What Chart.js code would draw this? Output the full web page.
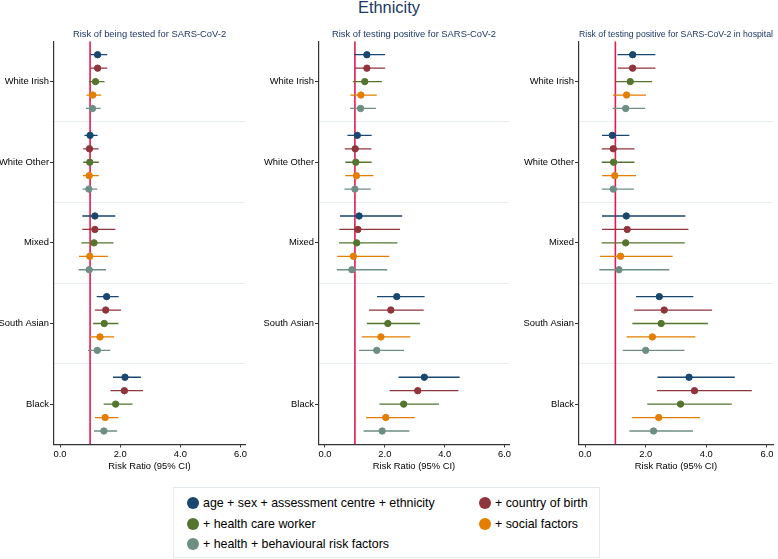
<!DOCTYPE html>
<html>
<head>
<meta charset="utf-8">
<script src="https://cdn.jsdelivr.net/npm/chart.js@4/dist/chart.umd.min.js"></script>
<style>
  body { margin: 0; width: 778px; height: 559px; background: #fff; position: relative; overflow: hidden;
         font-family: "Liberation Sans", Arial, sans-serif; }
  #title { position: absolute; top: -2px; left: 0; width: 778px; text-align: center; font-size: 16.4px; color: #1c3766; }
  canvas { position: absolute; top: 22px; }
  #legend { position: absolute; left: 173px; top: 487px; width: 427px; height: 71px; box-sizing: border-box;
            border: 1px solid #e3ebef; font-size: 12.4px; color: #000; }
  .item { position: absolute; white-space: nowrap; line-height: 14px; }
  .dot { position: absolute; width: 12px; height: 12px; border-radius: 50%; left: -16px; top: 1px; }
</style>
</head>
<body>
<div id="title">Ethnicity</div>
<canvas id="tested" width="258" height="450" style="left:0px"></canvas>
<canvas id="positive" width="260" height="450" style="left:262px"></canvas>
<canvas id="hospital" width="256" height="450" style="left:522px"></canvas>
<div id="legend"></div>

<script>
// categories and models
const categories = ['White Irish', 'White Other', 'Mixed', 'South Asian', 'Black'];
const models = ['age + sex + assessment centre + ethnicity', '+ country of birth', '+ health care worker',
                '+ social factors', '+ health + behavioural risk factors'];

// risk ratios, one row per category, one value per model
const testedRR   = [[1.25, 1.25, 1.18, 1.09, 1.08], [1.00, 0.98, 0.99, 0.97, 0.96], [1.16, 1.16, 1.13, 0.99, 0.97],
                    [1.55, 1.52, 1.47, 1.33, 1.24], [2.16, 2.14, 1.85, 1.50, 1.46]];
const testedLow  = [[1.02, 1.01, 0.96, 0.88, 0.86], [0.81, 0.77, 0.77, 0.76, 0.75], [0.74, 0.74, 0.71, 0.63, 0.62],
                    [1.22, 1.16, 1.10, 0.99, 0.93], [1.76, 1.68, 1.45, 1.16, 1.13]];
const testedHigh = [[1.57, 1.57, 1.48, 1.37, 1.35], [1.25, 1.28, 1.29, 1.29, 1.24], [1.84, 1.84, 1.78, 1.59, 1.53],
                    [1.95, 2.03, 1.94, 1.80, 1.67], [2.69, 2.76, 2.41, 1.94, 1.90]];

const positiveRR   = [[1.40, 1.40, 1.33, 1.20, 1.19], [1.08, 1.01, 1.03, 1.05, 1.00], [1.14, 1.10, 1.06, 0.95, 0.90],
                      [2.40, 2.20, 2.10, 1.87, 1.73], [3.32, 3.10, 2.63, 2.03, 1.91]];
const positiveLow  = [[0.98, 0.99, 0.93, 0.85, 0.84], [0.75, 0.66, 0.68, 0.68, 0.65], [0.50, 0.48, 0.47, 0.41, 0.40],
                      [1.74, 1.47, 1.40, 1.23, 1.14], [2.46, 2.16, 1.82, 1.37, 1.29]];
const positiveHigh = [[2.01, 2.01, 1.90, 1.73, 1.70], [1.56, 1.55, 1.56, 1.62, 1.53], [2.58, 2.51, 2.42, 2.15, 2.08],
                      [3.33, 3.30, 3.17, 2.85, 2.64], [4.50, 4.46, 3.81, 3.00, 2.82]];

const hospitalRR   = [[1.57, 1.57, 1.49, 1.37, 1.34], [0.90, 0.93, 0.94, 0.98, 0.93], [1.36, 1.39, 1.34, 1.17, 1.12],
                      [2.45, 2.61, 2.51, 2.22, 2.00], [3.43, 3.61, 3.15, 2.43, 2.26]];
const hospitalLow  = [[1.07, 1.08, 1.02, 0.92, 0.91], [0.56, 0.55, 0.55, 0.56, 0.55], [0.56, 0.56, 0.55, 0.49, 0.47],
                      [1.68, 1.62, 1.56, 1.37, 1.24], [2.39, 2.37, 2.05, 1.55, 1.46]];
const hospitalHigh = [[2.32, 2.32, 2.21, 2.01, 1.98], [1.46, 1.63, 1.63, 1.68, 1.61], [3.31, 3.41, 3.29, 2.89, 2.78],
                      [3.57, 4.19, 4.05, 3.64, 3.28], [4.94, 5.50, 4.84, 3.80, 3.56]];

const xTicks = [0, 2, 4, 6];
const refValue = 1;

const colors = ['#1a476f', '#90353b', '#55752f', '#e37e00', '#6e8e84'];
const fontFamily = '"Liberation Sans", Arial, sans-serif';

// row position: each category takes 6 units, models sit at 1..5 inside it
function rowY(c, m) { return c * 6 + 1 + m; }

function makePanel(id, title, rr, low, high, yWidth, padRight, xMax) {
  const datasets = [];
  models.forEach((name, m) => {
    const seg = [];
    categories.forEach((cat, c) => {
      seg.push({ x: low[c][m], y: rowY(c, m) });
      seg.push({ x: high[c][m], y: rowY(c, m) });
      seg.push({ x: high[c][m], y: null });
    });
    datasets.push({
      type: 'line', label: name + ' CI', data: seg, borderColor: colors[m], borderWidth: 1.3,
      pointRadius: 0, spanGaps: false, order: 2
    });
    datasets.push({
      type: 'scatter', label: name, data: categories.map((cat, c) => ({ x: rr[c][m], y: rowY(c, m) })),
      backgroundColor: colors[m], borderColor: colors[m], pointRadius: 3.2, order: 1
    });
  });
  datasets.push({
    type: 'line', label: 'ref', data: [{ x: refValue, y: 0 }, { x: refValue, y: 30 }],
    borderColor: '#e5194f', borderWidth: 1.6, pointRadius: 0, order: 5
  });

  new Chart(document.getElementById(id), {
    type: 'scatter',
    data: { datasets },
    options: {
      responsive: false,
      animation: false,
      layout: { padding: { right: padRight, left: 0, top: 0, bottom: 0 } },
      plugins: {
        legend: { display: false },
        tooltip: { enabled: false },
        title: {
          display: true, text: title, fullSize: false, color: '#1c3766',
          font: { family: fontFamily, size: 9.4, weight: 'normal' }, padding: { top: 7, bottom: 1 }
        }
      },
      scales: {
        x: {
          type: 'linear', min: -0.2, max: xMax,
          afterBuildTicks: (axis) => { axis.ticks = xTicks.map(v => ({ value: v })); },
          ticks: { callback: (v) => v.toFixed(1), color: '#000', font: { family: fontFamily, size: 9.4 }, padding: 1, maxRotation: 0 },
          grid: { drawOnChartArea: false, tickLength: 3, tickColor: '#333' },
          border: { color: '#333', width: 1.2 },
          title: { display: true, text: 'Risk Ratio (95% CI)', color: '#000', font: { family: fontFamily, size: 9.4 }, padding: 0 }
        },
        y: {
          type: 'linear', min: 0, max: 30, reverse: true,
          afterBuildTicks: (axis) => {
            const t = [];
            for (let v = 0; v <= 30; v += 3) t.push({ value: v });
            axis.ticks = t;
          },
          afterFit: (scale) => { scale.width = yWidth; },
          ticks: {
            autoSkip: false, color: '#000', font: { family: fontFamily, size: 9.4 }, padding: 1,
            callback: (v) => (v % 6 === 3 ? categories[(v - 3) / 6] : '')
          },
          grid: {
            tickLength: 4,
            color: (ctx) => {
              const v = ctx.tick ? ctx.tick.value : 0;
              return (v % 6 === 0 && v > 0 && v < 30) ? '#e6eef1' : 'rgba(0,0,0,0)';
            },
            tickColor: (ctx) => {
              const v = ctx.tick ? ctx.tick.value : 0;
              return v % 6 === 3 ? '#333' : 'rgba(0,0,0,0)';
            }
          },
          border: { color: '#333', width: 1.2 }
        }
      }
    }
  });
}

makePanel('tested', 'Risk of being tested for SARS-CoV-2', testedRR, testedLow, testedHigh, 54, 13, 6.15);
makePanel('positive', 'Risk of testing positive for SARS-CoV-2', positiveRR, positiveLow, positiveHigh, 57, 13, 6.15);
makePanel('hospital', 'Risk of testing positive for SARS-CoV-2 in hospital', hospitalRR, hospitalLow, hospitalHigh, 57, 3, 6.2);

// legend: two columns, filled row by row
const legend = document.getElementById('legend');
const colX = [29, 321];
models.forEach((name, m) => {
  const item = document.createElement('div');
  item.className = 'item';
  item.style.left = colX[m % 2] + 'px';
  item.style.top = (8 + Math.floor(m / 2) * 20.5) + 'px';
  item.innerHTML = '<span class="dot" style="background:' + colors[m] + '"></span>' + name;
  legend.appendChild(item);
});
</script>
</body>
</html>
